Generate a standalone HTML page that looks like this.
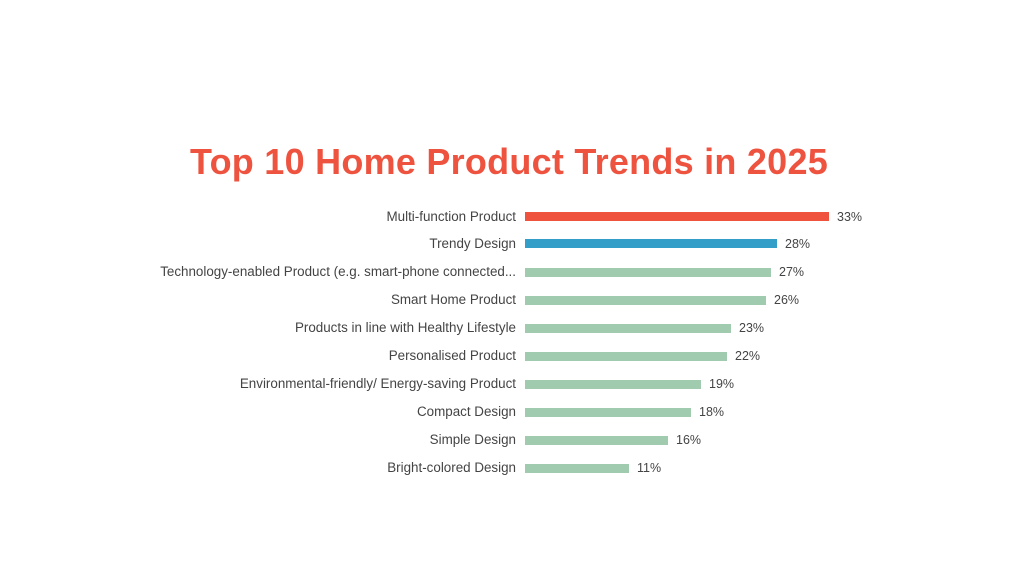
<!DOCTYPE html>
<html><head><style>
body{margin:0;width:1024px;height:576px;background:#fff;position:relative;overflow:hidden;font-family:"Liberation Sans",sans-serif}
.t{position:absolute;left:190px;top:141px;font-size:36px;font-weight:bold;color:#ee5340;white-space:nowrap;letter-spacing:0.25px}
.l{position:absolute;right:508px;font-size:13.4px;color:#444;white-space:nowrap;line-height:14px}
.b{position:absolute;left:525px;height:9px}
.v{position:absolute;font-size:12.5px;color:#444;line-height:14px}
</style></head><body>
<div class="t">Top 10 Home Product Trends in 2025</div>
<div class="l" style="top:210px">Multi-function Product</div><div class="b" style="top:212px;width:304px;background:#ef533d"></div><div class="v" style="top:210px;left:837px">33%</div>
<div class="l" style="top:237px">Trendy Design</div><div class="b" style="top:239px;width:252px;background:#339fc8"></div><div class="v" style="top:237px;left:785px">28%</div>
<div class="l" style="top:265px">Technology-enabled Product (e.g. smart-phone connected...</div><div class="b" style="top:268px;width:246px;background:#a1cbaf"></div><div class="v" style="top:265px;left:779px">27%</div>
<div class="l" style="top:293px">Smart Home Product</div><div class="b" style="top:296px;width:241px;background:#a1cbaf"></div><div class="v" style="top:293px;left:774px">26%</div>
<div class="l" style="top:321px">Products in line with Healthy Lifestyle</div><div class="b" style="top:324px;width:206px;background:#a1cbaf"></div><div class="v" style="top:321px;left:739px">23%</div>
<div class="l" style="top:349px">Personalised Product</div><div class="b" style="top:352px;width:202px;background:#a1cbaf"></div><div class="v" style="top:349px;left:735px">22%</div>
<div class="l" style="top:377px">Environmental-friendly/ Energy-saving Product</div><div class="b" style="top:380px;width:176px;background:#a1cbaf"></div><div class="v" style="top:377px;left:709px">19%</div>
<div class="l" style="top:405px">Compact Design</div><div class="b" style="top:408px;width:166px;background:#a1cbaf"></div><div class="v" style="top:405px;left:699px">18%</div>
<div class="l" style="top:433px">Simple Design</div><div class="b" style="top:436px;width:143px;background:#a1cbaf"></div><div class="v" style="top:433px;left:676px">16%</div>
<div class="l" style="top:461px">Bright-colored Design</div><div class="b" style="top:464px;width:104px;background:#a1cbaf"></div><div class="v" style="top:461px;left:637px">11%</div>
</body></html>
